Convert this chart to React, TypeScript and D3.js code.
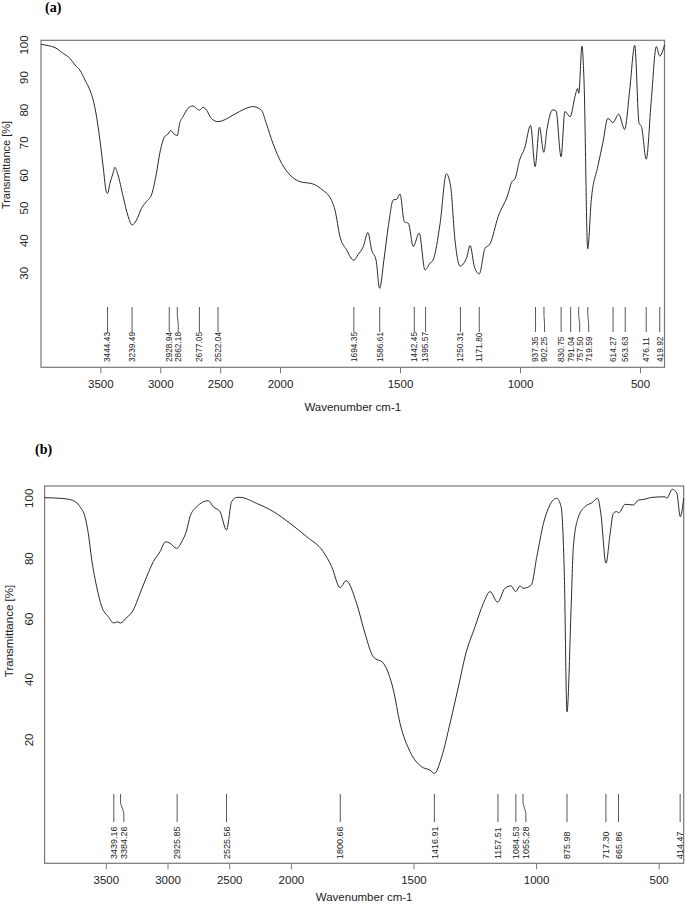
import React, { useEffect, useRef } from 'react';
import * as d3 from 'd3';

// ---- panel (a) ----
const wnA = [4000, 3940, 3883, 3814, 3758, 3717, 3675, 3633, 3592, 3564, 3536, 3508, 3481, 3453, 3444, 3425, 3400, 3383, 3360, 3314, 3272, 3239, 3203, 3161, 3119, 3078, 3036, 3008, 2967, 2939, 2917, 2897, 2880, 2862, 2842, 2814, 2772, 2731, 2700, 2677, 2647, 2619, 2578, 2522, 2453, 2397, 2342, 2286, 2231, 2161, 2119, 2064, 1995, 1960, 1919, 1865, 1824, 1796, 1773, 1752, 1724, 1700, 1694, 1678, 1655, 1636, 1620, 1602, 1587, 1569, 1551, 1530, 1516, 1502, 1484, 1467, 1447, 1422, 1398, 1377, 1364, 1335, 1309, 1291, 1273, 1252, 1224, 1210, 1192, 1172, 1148, 1127, 1093, 1051, 1038, 1022, 1004, 983, 958, 939, 921, 903, 889, 866, 852, 831, 815, 793, 773, 762, 757, 744, 735, 720, 705, 678, 657, 636, 615, 591, 566, 545, 524, 506, 496, 476, 455, 434, 420, 400];
const tA = [100.2, 99.8, 99.2, 97.4, 95.9, 93.9, 92.3, 89.3, 86.2, 83.1, 78.0, 70.9, 62.7, 54.8, 54.5, 57.5, 60.5, 62.5, 60.5, 53.5, 47.4, 44.8, 46.3, 49.9, 52.0, 54.0, 60.7, 66.8, 71.9, 72.7, 73.8, 73.0, 72.5, 72.2, 76.0, 78.0, 80.6, 81.3, 80.5, 80.0, 80.9, 80.1, 77.5, 76.5, 77.3, 78.5, 79.6, 80.6, 81.1, 80.1, 76.0, 69.9, 63.7, 60.1, 58.1, 57.4, 55.5, 53.5, 49.4, 41.2, 37.1, 34.2, 34.0, 35.6, 38.2, 42.5, 37.1, 34.1, 25.4, 34.1, 44.3, 52.5, 52.7, 54.3, 45.8, 45.3, 38.2, 42.3, 31.0, 33.1, 34.1, 45.3, 60.5, 56.6, 40.2, 32.2, 34.9, 38.5, 32.0, 29.8, 37.6, 39.0, 47.4, 54.5, 57.8, 59.1, 64.7, 68.3, 75.3, 62.7, 74.8, 67.1, 74.5, 80.1, 79.8, 65.7, 79.6, 78.0, 84.2, 86.7, 85.2, 99.7, 88.3, 37.5, 52.5, 62.7, 69.9, 77.5, 76.2, 78.8, 74.1, 86.2, 99.9, 76.0, 75.0, 65.0, 83.1, 99.5, 96.6, 100.0];
const peaksA = [3444.43, 3239.49, 2928.94, 2862.18, 2677.05, 2522.04, 1694.35, 1586.61, 1442.45, 1395.57, 1250.31, 1171.80, 937.35, 902.25, 830.75, 791.04, 757.50, 719.59, 614.27, 563.63, 476.11, 419.92];
const yTicksA = [30, 40, 50, 60, 70, 80, 90, 100];

// ---- panel (b) ----
const wnB = [4000, 3875, 3780, 3713, 3673, 3646, 3618, 3578, 3537, 3484, 3439, 3412, 3384, 3340, 3281, 3227, 3173, 3119, 3065, 3019, 2984, 2929, 2889, 2848, 2822, 2767, 2673, 2633, 2579, 2526, 2484, 2443, 2416, 2281, 2146, 2011, 1938, 1870, 1836, 1801, 1777, 1734, 1700, 1666, 1625, 1584, 1557, 1516, 1469, 1435, 1417, 1387, 1353, 1313, 1292, 1251, 1217, 1190, 1159, 1129, 1104, 1085, 1068, 1055, 1022, 999, 972, 952, 918, 900, 887, 876, 859, 850, 830, 803, 775, 751, 738, 717, 700, 687, 673, 665, 639, 605, 585, 558, 530, 476, 469, 446, 428, 414, 400];
const tB = [100.2, 100.0, 99.4, 97.2, 93.9, 88.4, 79.6, 70.7, 64.1, 60.8, 58.7, 59.1, 58.7, 60.3, 63.0, 68.5, 74.0, 79.0, 82.3, 85.6, 85.1, 83.4, 85.6, 89.5, 93.9, 97.2, 99.2, 97.2, 95.6, 89.5, 98.9, 100.3, 100.3, 98.3, 95.6, 91.7, 87.3, 82.3, 77.4, 70.4, 72.7, 65.2, 55.3, 47.5, 45.4, 36.5, 25.5, 16.1, 11.1, 10.0, 8.9, 14.4, 25.5, 39.8, 47.5, 57.5, 65.2, 69.1, 65.6, 70.2, 71.0, 69.1, 71.0, 70.2, 71.2, 80.7, 91.7, 96.7, 100.0, 97.2, 75.2, 29.3, 64.1, 84.0, 93.7, 97.2, 98.5, 100.0, 95.0, 78.5, 88.4, 95.0, 95.6, 95.2, 98.0, 97.8, 99.4, 99.7, 100.3, 100.5, 100.0, 103.0, 101.7, 93.9, 100.0];
const peaksB = [3439.16, 3384.26, 2925.85, 2525.56, 1800.66, 1416.91, 1157.51, 1084.53, 1055.28, 875.98, 717.30, 665.86, 414.47];
const yTicksB = [20, 40, 60, 80, 100];

const xTicks = [3500, 3000, 2500, 2000, 1500, 1000, 500];

const FONT = '"Liberation Sans", Arial, sans-serif';

// push crowded peak labels apart, left to right
const spread = (xs, gap) => {
  const out = [];
  xs.forEach((x, i) => {
    out.push(i > 0 && x - out[i - 1] < gap ? out[i - 1] + gap : x);
  });
  return out;
};

const drawPanel = (svg, o) => {
  const x = d3.scaleLinear().domain([4000, 2000, 400]).range(o.xr);
  const y = d3.scaleLinear().domain(o.yd).range([o.bottom, o.top]);
  const [left, right] = [o.xr[0], o.xr[2]];
  const g = svg.append('g');

  g.append('text')
    .attr('x', o.tagX).attr('y', o.tagY)
    .attr('font-family', '"Liberation Serif", "Times New Roman", serif')
    .attr('font-weight', 'bold').attr('font-size', 14)
    .text(o.tag);

  // frame
  g.append('rect')
    .attr('x', left).attr('y', o.top)
    .attr('width', right - left).attr('height', o.bottom - o.top)
    .attr('fill', 'none').attr('stroke', '#777').attr('stroke-width', 1.2);

  // x axis
  xTicks.forEach((t) => {
    g.append('line')
      .attr('x1', x(t)).attr('x2', x(t))
      .attr('y1', o.bottom).attr('y2', o.bottom + 6)
      .attr('stroke', '#777');
    g.append('text')
      .attr('x', x(t)).attr('y', o.bottom + 21)
      .attr('text-anchor', 'middle').attr('font-family', FONT).attr('font-size', 11.5)
      .attr('fill', '#222')
      .text(t);
  });
  g.append('text')
    .attr('x', (left + right) / 2).attr('y', o.bottom + o.titleDy)
    .attr('text-anchor', 'middle').attr('font-family', FONT).attr('font-size', 11.5)
    .attr('fill', '#222')
    .text('Wavenumber cm-1');

  // y axis labels (no tick marks in the original)
  o.yTicks.forEach((t) => {
    g.append('text')
      .attr('transform', `translate(${o.yLabX}, ${y(t)}) rotate(-90)`)
      .attr('text-anchor', 'middle').attr('font-family', FONT).attr('font-size', 11.5)
      .attr('fill', '#222')
      .text(t);
  });
  g.append('text')
    .attr('transform', `translate(${o.yTitleX}, ${o.yTitleY}) rotate(-90)`)
    .attr('text-anchor', 'middle').attr('font-family', FONT).attr('font-size', o.yTitleSize)
    .attr('fill', '#222')
    .text('Transmittance [%]');

  // spectrum
  const pts = o.wn.map((w, i) => [w, o.t[i]]);
  const line = d3.line()
    .x((d) => x(d[0]))
    .y((d) => y(d[1]))
    .curve(d3.curveMonotoneX);
  g.append('path')
    .datum(pts)
    .attr('d', line)
    .attr('fill', 'none')
    .attr('stroke', '#2a2a2a')
    .attr('stroke-width', 1);

  // peak markers
  const px = o.peaks.map((p) => x(p));
  const lx = spread(px, o.gap);
  const h = o.markBottom - o.markTop;
  o.peaks.forEach((p, i) => {
    g.append('path')
      .attr('d', `M${px[i]},${o.markTop}L${px[i]},${o.markTop + h / 3}L${lx[i]},${o.markTop + (2 * h) / 3}L${lx[i]},${o.markBottom}`)
      .attr('fill', 'none').attr('stroke', '#444').attr('stroke-width', 0.9);
    g.append('text')
      .attr('transform', `translate(${lx[i]}, ${o.labY}) rotate(-90)`)
      .attr('dy', '0.35em')
      .attr('font-family', FONT).attr('font-size', o.labSize)
      .attr('fill', '#222')
      .text(p.toFixed(2));
  });
};

const App = () => {
  const chartRef = useRef(null);

  useEffect(() => {
    const svg = d3
      .select(chartRef.current)
      .append('svg')
      .attr('width', 685)
      .attr('height', 905)
      .style('position', 'absolute')
      .style('left', 0)
      .style('top', 0)
      .style('background', '#fff');

    drawPanel(svg, {
      tag: '(a)', tagX: 45, tagY: 12,
      xr: [41, 280.5, 664.5], top: 40.3, bottom: 367.3, yd: [1.17, 101.44],
      wn: wnA, t: tA, peaks: peaksA, yTicks: yTicksA,
      yLabX: 28, yTitleX: 10, yTitleY: 165, yTitleSize: 11,
      titleDy: 44, markTop: 307, markBottom: 332, labY: 362, labSize: 8.3, gap: 9,
    });

    drawPanel(svg, {
      tag: '(b)', tagX: 35, tagY: 454,
      xr: [44.6, 291.4, 683.7], top: 486, bottom: 863.3, yd: [-20.86, 104.07],
      wn: wnB, t: tB, peaks: peaksB, yTicks: yTicksB,
      yLabX: 33, yTitleX: 13, yTitleY: 631, yTitleSize: 11.5,
      titleDy: 38, markTop: 794, markBottom: 822, labY: 859, labSize: 9, gap: 10,
    });

    return () => {
      d3.select(chartRef.current).selectAll('*').remove();
    };
  }, []);

  return <div ref={chartRef} />;
};

export default App;
